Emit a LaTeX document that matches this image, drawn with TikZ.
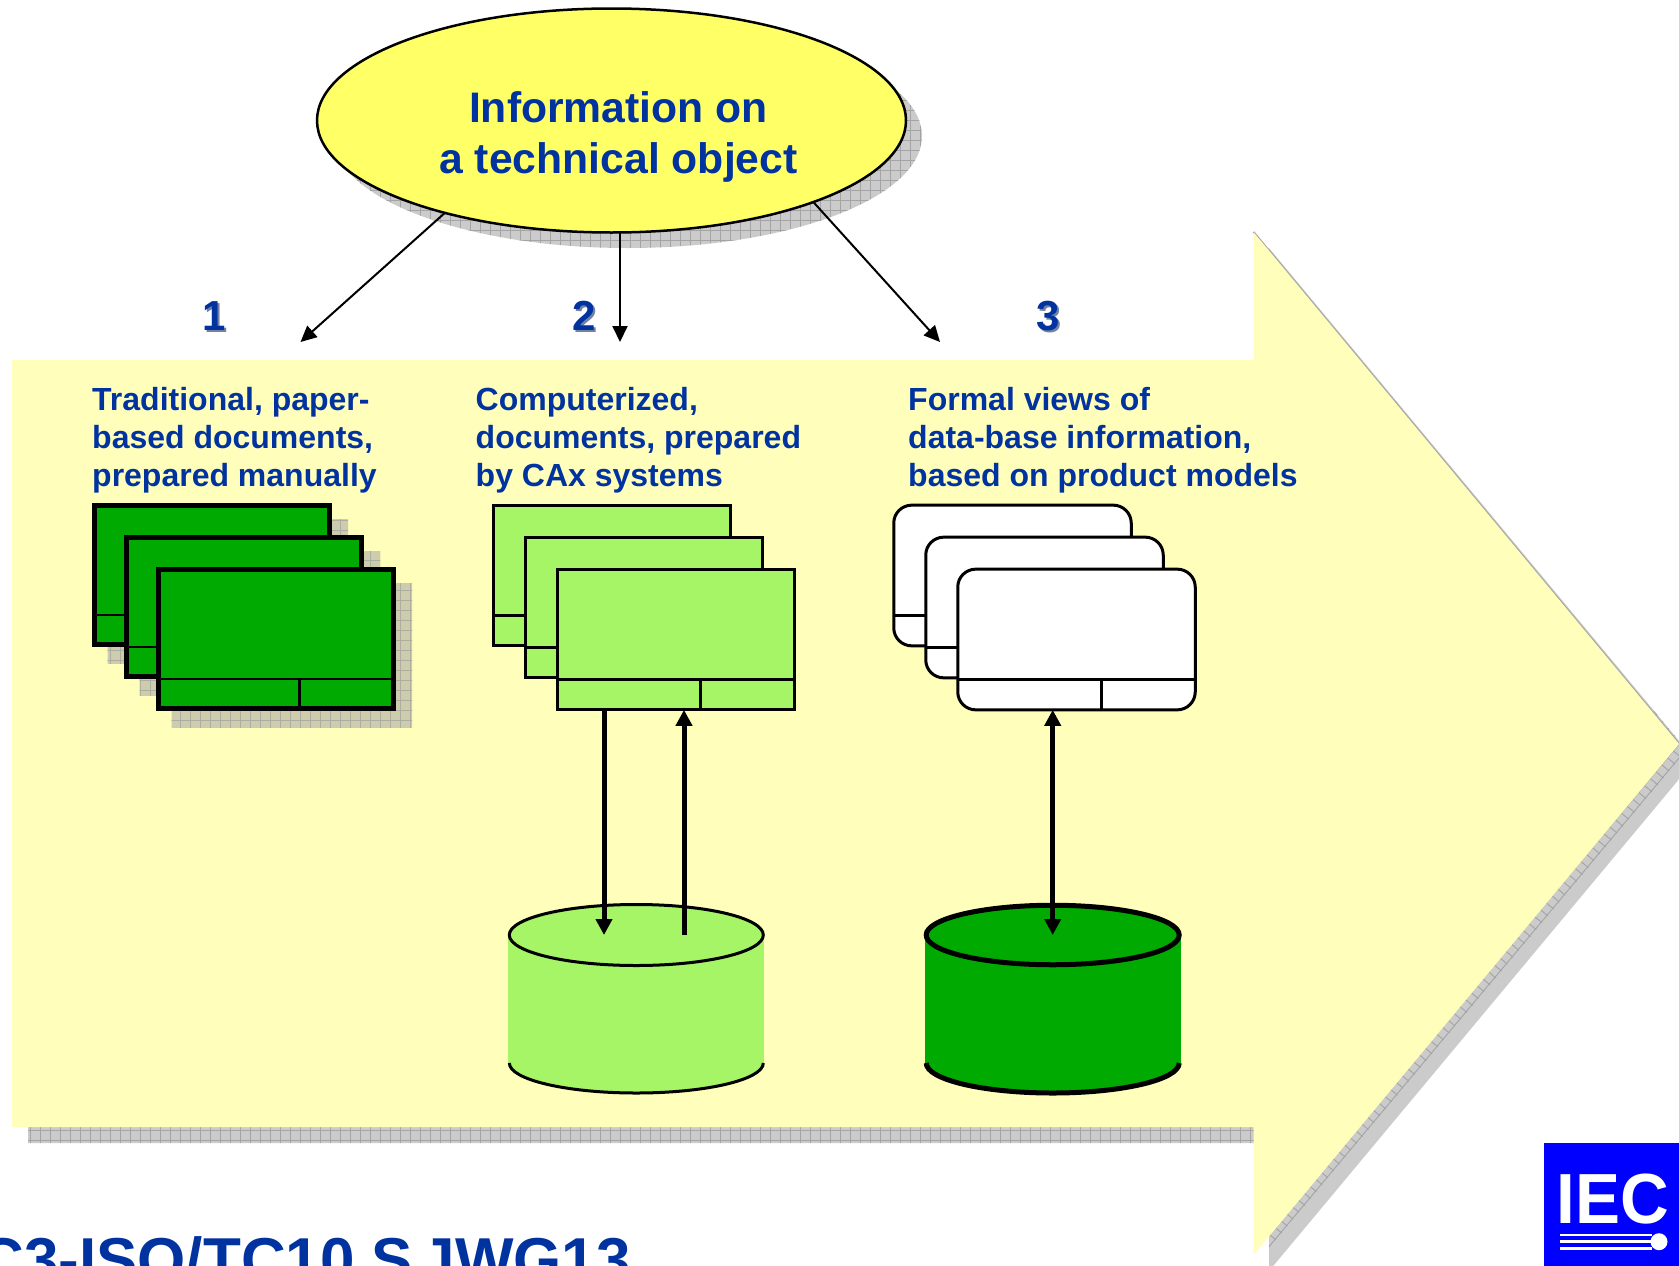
\documentclass[tikz,border=0pt]{standalone}
\usepackage{fontspec}
\setmainfont{Liberation Sans}
\usetikzlibrary{shapes.geometric,arrows.meta,calc}
\definecolor{paleyellow}{HTML}{FFFFBB}
\definecolor{sunyellow}{HTML}{FFFF66}
\definecolor{darkgreen}{HTML}{00AA00}
\definecolor{lightgreen}{HTML}{A6F566}
\definecolor{inkblue}{HTML}{0033A0}
\definecolor{logoblue}{HTML}{0000FF}
\definecolor{shadegrey}{HTML}{CBCBCB}
\definecolor{shadeline}{HTML}{A4A4A4}
\definecolor{tangrey}{HTML}{CDCCAC}
\definecolor{tanline}{HTML}{ADADA2}
\tikzset{
  x=1pt,y=-1pt,
  title/.style={font=\bfseries\fontsize{42.7}{51}\selectfont,text=inkblue,align=center,inner sep=0},
  lab/.style={font=\bfseries\fontsize{32}{38}\selectfont,text=inkblue,align=left,inner sep=0,anchor=north west},
  num/.style={font=\bfseries\fontsize{42}{42}\selectfont,inner sep=0,anchor=base},
  thinarrow/.style={draw=black,line width=2pt,-{Triangle[length=16pt,width=15pt]}},
  fatarrow/.style={draw=black,line width=5pt,-{Triangle[length=16pt,width=16pt]}},
  fatboth/.style={draw=black,line width=5pt,{Triangle[length=16pt,width=16pt]}-{Triangle[length=16pt,width=16pt]}},
  docdark/.style={rectangle,draw=black,line width=5pt,fill=darkgreen,inner sep=0,outer sep=0},
  doclight/.style={rectangle,draw=black,line width=3pt,fill=lightgreen,inner sep=0,outer sep=0},
  docwhite/.style={rectangle,rounded corners=18pt,draw=black,line width=3pt,fill=white,inner sep=0,outer sep=0},
  drum/.style={ellipse,draw=black,inner sep=0,outer sep=0},
}
\newcommand{\gridlines}[1]{%
  \foreach \g in {0,10,...,1700} {\draw[#1,line width=0.8pt] (\g,0) -- (\g,1300);}
  \foreach \g in {0,10,...,1300} {\draw[#1,line width=0.8pt] (0,\g) -- (1700,\g);}
}
% name, style, split line width, x, y (centre of rear sheet), w, h, shadow flag
\newcommand{\docstack}[8]{%
  \foreach \n/\o in {a/0,b/32,c/64} {
    \ifx#8\relax\else
      \begin{scope}
        \clip (#4+\o+16-#6/2-2.5,#5+\o+16-#7/2-2.5) rectangle (#4+\o+16+#6/2+2.5,#5+\o+16+#7/2+2.5);
        \fill[tangrey] (0,0) rectangle (1700,1300);
        \gridlines{tanline}
      \end{scope}
    \fi
    \node[#2,minimum width=#6 pt,minimum height=#7 pt] (#1\n) at (#4+\o,#5+\o) {};
    \draw[line width=#3] (#4+\o-#6/2,575.5+\o+39.5) -- (#4+\o+#6/2,575.5+\o+39.5);
    \draw[line width=#3] ($(#1\n.south east)+(-94.2,0)$) -- (#4+\o+#6/2-94.2,575.5+\o+39.5);
  }
}
% name, x centre, fill, line width, top ellipse width, height
\newcommand{\drumshape}[6]{%
  \fill[#3] (#2-128,935) rectangle (#2+128,1063);
  \draw[line width=#4,fill=#3] (#2-#5/2,1063) arc[start angle=180,end angle=360,x radius=#5/2,y radius=-30];
  \node[drum,fill=#3,line width=#4,minimum width=#5 pt,minimum height=#6 pt] (#1) at (#2,935) {};
}
\begin{document}
\begin{tikzpicture}
\useasboundingbox (0,0) rectangle (1679,1266);
\fill[white] (0,0) rectangle (1679,1266);

% big arrow and its shadow
\begin{scope}
  \clip (28,376) -- (1269,376) -- (1269,248) -- (1695,760) -- (1269,1271) -- (1269,1143) -- (28,1143) -- cycle;
  \fill[shadegrey] (0,0) rectangle (1700,1300);
  \begin{scope}
    \clip (0,0) rectangle (1269,1300);
    \gridlines{shadeline}
  \end{scope}
  \begin{scope}[shift={(1679,744)},rotate=50]
    \foreach \g in {-9,0,...,36} {\draw[shadeline,line width=0.9pt] (-800,-\g) -- (100,-\g);}
    \foreach \g in {-801,-792,...,99} {\draw[shadeline,line width=0.9pt] (\g,-40) -- (\g,10);}
  \end{scope}
\end{scope}
\draw[shadeline,line width=2pt] (1253.5,232) -- (1679,744);
\fill[paleyellow] (12,360) -- (1253.5,360) -- (1253.5,232) -- (1679,744) -- (1253.5,1255) -- (1253.5,1127) -- (12,1127) -- cycle;

% ellipse shadow and ellipse
\begin{scope}
  \clip (627.5,136) ellipse[x radius=294.5,y radius=112];
  \fill[shadegrey] (300,0) rectangle (950,260);
  \gridlines{shadeline}
\end{scope}
\node[ellipse,draw=black,line width=2.5pt,fill=sunyellow,inner sep=0,outer sep=0,minimum width=589pt,minimum height=224pt] (info) at (611.5,120.5) {};
\node[title] (infotext) at (618.5,137) {Information on\\a technical object};

% numbers
\foreach \nm/\x/\t in {one/214/1,two/584/2,three/1048/3} {
  \node[num,text=shadeline!70!inkblue] (s\nm) at (\x+2,332) {\t};
  \node[num,text=inkblue] (\nm) at (\x,330) {\t};
}

% connectors from the ellipse
\coordinate (e1) at (300.5,342);
\coordinate (e2) at (620,342);
\coordinate (e3) at (940,342);
\draw[thinarrow] (info.209.7) -- (e1);
\draw[thinarrow] (e2 |- info.south) -- (e2);
\draw[thinarrow] (info.338.5) -- (e3);

% column labels
\node[lab] (l1) at (92,387.5) {Traditional, paper-\\based documents,\\prepared manually};
\node[lab] (l2) at (475.5,387.5) {Computerized,\\documents, prepared\\by CAx systems};
\node[lab] (l3) at (908,387.5) {Formal views of\\data-base information,\\based on product models};

% sheets
\docstack{p}{docdark}{2.5pt}{211.75}{575}{235.5}{139}{x}
\docstack{c}{doclight}{3pt}{612}{575.5}{237.5}{140.7}{\relax}
\docstack{f}{docwhite}{3pt}{1012.5}{575.5}{237.5}{140.7}{\relax}

% drums
\drumshape{dba}{636.3}{lightgreen}{3pt}{254}{61}
\drumshape{dbb}{1052.7}{darkgreen}{5pt}{253}{59.5}

% drum and sheet connectors
\draw[fatarrow] ([xshift=-72pt]cc.south) -- ([xshift=-32.3pt]dba.center);
\draw[fatarrow] ([xshift=47.7pt]dba.center) -- ([xshift=8pt]cc.south);
\draw[fatboth] ([xshift=-23.8pt]fc.south) -- (dbb.center);

% bottom title
\node[font=\bfseries\fontsize{62}{62}\selectfont,text=inkblue,inner sep=0,anchor=base east] (foot) at (631,1281) {C3-ISO/TC10 S\hspace{-10pt} JWG13};

% logo
\node[rectangle,fill=logoblue,inner sep=0,outer sep=0,minimum width=135pt,minimum height=123pt] (logo) at (1611.5,1204.5) {};
\node[font=\bfseries\fontsize{71}{71}\selectfont,text=white,inner sep=0,anchor=base west,xscale=0.95] (iec) at (1556.5,1223) {IEC};
\fill[white] (1560,1233.7) rectangle (1652,1236.3);
\fill[white] (1560,1240.4) rectangle (1652,1243);
\fill[white] (1560,1247) rectangle (1652,1249.6);
\fill[white] (1659,1241.7) circle[radius=8.5];
\end{tikzpicture}
\end{document}
